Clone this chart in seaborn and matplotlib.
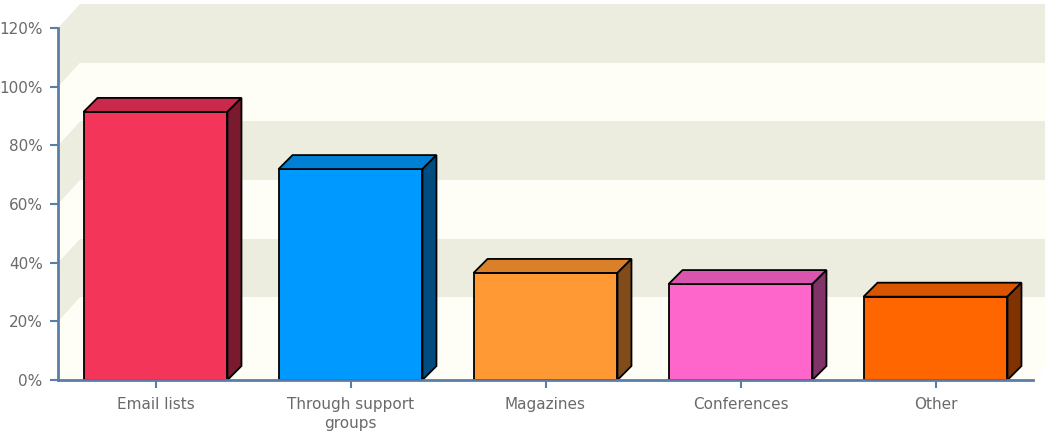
import matplotlib
matplotlib.use("Agg")
import matplotlib.pyplot as plt
from matplotlib.patches import Polygon
import seaborn as sns
import pandas as pd

categories = ["Email lists", "Through support\ngroups", "Magazines", "Conferences", "Other"]
values = [91.4, 71.9, 36.5, 32.7, 28.4]
front_colors = ["#F23559", "#0099FF", "#FF9933", "#FF66CC", "#FF6600"]
top_colors = ["#C9294A", "#0080D4", "#D98029", "#D955AD", "#D95500"]
side_colors = ["#7A1A2E", "#004C80", "#804C1A", "#803366", "#803300"]
yticks = [0, 20, 40, 60, 80, 100, 120]
ytick_labels = ["0%", "20%", "40%", "60%", "80%", "100%", "120%"]

W, H = 1045, 436
fig = plt.figure(figsize=(W / 100, H / 100), dpi=100)
fig.patch.set_facecolor("white")
left_px, right_px, bottom_px, top_px = 58, 1033, 380, 28
ax = fig.add_axes([left_px / W, (H - bottom_px) / H,
                   (right_px - left_px) / W, (bottom_px - top_px) / H])
ax.set_facecolor("none")

df = pd.DataFrame({"cat": categories, "val": values})
sns.barplot(data=df, x="cat", y="val", hue="cat", palette=front_colors,
            legend=False, width=0.738, edgecolor="black", linewidth=1.3,
            saturation=1, ax=ax, zorder=3)

ax.set_xlim(-0.5, 4.5)
ax.set_ylim(0, 120)

# pixel scale
px_x = 5.0 / (right_px - left_px)
px_y = 120.0 / (bottom_px - top_px)

# 3D walls
wdx, wdy = 22 * px_x, 24 * px_y
beige, cream = "#ECECDF", "#FEFEF6"
xr = 4.5 + 40 * px_x
for i in range(6):
    y0, y1 = yticks[i], yticks[i + 1]
    c = beige if i % 2 == 1 else cream
    ax.add_patch(Polygon([(-0.5 + wdx, y0 + wdy), (xr, y0 + wdy), (xr, y1 + wdy),
                          (-0.5 + wdx, y1 + wdy)], closed=True, facecolor=c,
                         edgecolor="none", clip_on=False, zorder=0.5))
    ax.add_patch(Polygon([(-0.5, y0), (-0.5 + wdx, y0 + wdy), (-0.5 + wdx, y1 + wdy),
                          (-0.5, y1)], closed=True, facecolor=c,
                         edgecolor="none", clip_on=False, zorder=0.6))
ax.add_patch(Polygon([(-0.5, 0), (4.5, 0), (4.5 + wdx, wdy), (-0.5 + wdx, wdy)],
                     closed=True, facecolor=cream, edgecolor="none",
                     clip_on=False, zorder=0.6))

# 3D bar faces
bdx, bdy = 14 * px_x, 14 * px_y
bars = [q for q in ax.patches if q.get_zorder() == 3]
for p, tc, sc in zip(bars, top_colors, side_colors):
    x0, w, h = p.get_x(), p.get_width(), p.get_height()
    ax.add_patch(Polygon([(x0, h), (x0 + w, h), (x0 + w + bdx, h + bdy),
                          (x0 + bdx, h + bdy)], closed=True, facecolor=tc,
                         edgecolor="black", linewidth=1.3, joinstyle="miter",
                         clip_on=False, zorder=3))
    ax.add_patch(Polygon([(x0 + w, 0), (x0 + w + bdx, bdy), (x0 + w + bdx, h + bdy),
                          (x0 + w, h)], closed=True, facecolor=sc,
                         edgecolor="black", linewidth=1.3, joinstyle="miter",
                         clip_on=False, zorder=3))

axis_color = "#5B7DA6"
for s in ["top", "right"]:
    ax.spines[s].set_visible(False)
for s in ["left", "bottom"]:
    ax.spines[s].set_color(axis_color)
    ax.spines[s].set_linewidth(2)
    ax.spines[s].set_zorder(4)

ax.set_yticks(yticks)
ax.set_yticklabels(ytick_labels)
ax.set_xticks(range(len(categories)))
ax.set_xticklabels(categories, linespacing=1.4)
ax.tick_params(axis="both", colors=axis_color, width=1.5, length=6,
               labelcolor="#6A6A6A", labelsize=11)
ax.tick_params(axis="y", pad=5)
ax.tick_params(axis="x", pad=6)
ax.set_xlabel("")
ax.set_ylabel("")

fig.savefig("out.png", dpi=100, facecolor="white")
